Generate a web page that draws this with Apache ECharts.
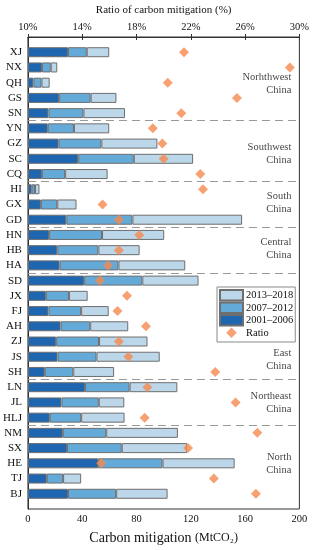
<!DOCTYPE html>
<html><head><meta charset="utf-8">
<script src="https://cdn.jsdelivr.net/npm/echarts@6/dist/echarts.min.js"></script>
<style>html,body{margin:0;padding:0;background:#fff}#c{width:312px;height:550px}</style>
</head><body><div id="c"></div>
<script>
// ---- data ----
const provinces = ['XJ','NX','QH','GS','SN','YN','GZ','SC','CQ','HI','GX','GD','HN','HB','HA','SD','JX','FJ','AH','ZJ','JS','SH','LN','JL','HLJ','NM','SX','HE','TJ','BJ'];
const seg2001_2006 = [29.5,10.3,4.0,23.0,15.1,14.6,22.6,37.0,10.3,2.8,9.5,28.3,15.6,21.6,23.3,41.4,13.2,15.1,24.0,20.8,21.8,12.4,42.1,24.7,16.1,25.7,28.8,51.7,13.9,29.5];
const seg2007_2012 = [13.8,6.5,6.0,23.2,25.8,19.3,31.5,41.0,17.1,2.4,12.1,48.7,39.0,30.3,43.4,42.9,17.0,24.1,21.9,31.6,28.7,21.0,32.8,27.5,23.1,32.0,40.3,47.5,12.0,35.5];
const seg2013_2018 = [16.6,4.8,6.0,19.0,30.6,26.0,41.3,43.7,31.3,3.3,14.2,80.8,45.8,30.4,49.2,41.4,13.8,20.3,28.0,35.7,46.6,30.1,35.2,18.8,32.0,52.8,48.2,53.1,13.3,37.9];
const ratioPct = [21.5,29.3,20.3,25.4,21.3,19.2,19.9,20.0,22.7,22.9,15.5,16.7,18.2,16.7,15.9,15.3,17.3,16.6,18.7,16.7,17.4,23.8,18.8,25.3,18.6,26.9,21.8,15.4,23.7,26.8];
const regionNames = ['Norhthwest\nChina','Southwest\nChina','South\nChina','Central\nChina','East\nChina','Northeast\nChina','North\nChina'];
const regionSizes = [5,4,3,3,7,3,5];
const mitigationTicks = [0,40,80,120,160,200];
const ratioTicks = [10,14,18,22,26,30];

// ---- layout / style ----
const regionLabelShift = [0.05,0.15,-0.1,-0.1,2.2,0,0];
const FONT = 'Liberation Serif';
const FS = 10.5;
const C1 = '#1f66b1', C2 = '#64aad9', C3 = '#bdd7ea', BORDER = '#6e6e6e', ORANGE = '#f5894f';
const RATIO_OFFSET = ratioTicks[0];

const cats = [''].concat(provinces).concat(['']);
const pairs = arr => arr.map((v,i)=>[v, provinces[i]]);

let acc = 0; const boundaries = []; const labelPts = [];
regionSizes.forEach((n,k)=>{
  const start = acc + 1, end = acc + n;
  labelPts.push({value:[mitigationTicks[mitigationTicks.length-1], (start+end)/2 + regionLabelShift[k]], name: regionNames[k]});
  acc += n;
  if (k < regionSizes.length-1) boundaries.push({yAxis: acc + 0.5});
});

const chart = echarts.init(document.getElementById('c'), null, {renderer:'canvas'});
const axisLineStyle = {color:'#333', width:1};
chart.setOption({
  animation:false,
  textStyle:{fontFamily:FONT},
  grid:{left:23, right:12, top:32, bottom:33, containLabel:false, show:true, borderColor:'#333', borderWidth:1, backgroundColor:'transparent'},
  xAxis:[
    {type:'value', min:mitigationTicks[0], max:mitigationTicks[mitigationTicks.length-1], interval:40, position:'bottom',
     axisLine:{show:true, lineStyle:axisLineStyle}, axisTick:{show:true, inside:true, length:3, lineStyle:axisLineStyle},
     axisLabel:{color:'#111', fontFamily:FONT, fontSize:FS, margin:5},
     splitLine:{show:false},
     name:'{a|Carbon mitigation }{b|(MtCO₂)}', nameLocation:'middle', nameGap:22,
     nameTextStyle:{rich:{a:{fontFamily:FONT,fontSize:14,color:'#111'}, b:{fontFamily:FONT,fontSize:12,color:'#111'}}}},
    {type:'value', min:0, max:ratioTicks[ratioTicks.length-1]-RATIO_OFFSET, interval:4, position:'top',
     axisLine:{show:true, lineStyle:axisLineStyle}, axisTick:{show:true, inside:true, length:3, lineStyle:axisLineStyle},
     axisLabel:{color:'#111', fontFamily:FONT, fontSize:FS, margin:4, formatter:v=>(v+RATIO_OFFSET)+'%'},
     splitLine:{show:false},
     name:'Ratio of carbon mitigation (%)', nameLocation:'middle', nameGap:21,
     nameTextStyle:{fontFamily:FONT, fontSize:11, color:'#111'}}
  ],
  yAxis:[
    {type:'category', data:cats, inverse:true, boundaryGap:false,
     axisLine:{show:true, lineStyle:axisLineStyle}, axisTick:{show:false},
     axisLabel:{interval:0, color:'#111', fontFamily:FONT, fontSize:11, margin:6}},
    {type:'value', min:0, max:cats.length-1, inverse:true, position:'right',
     axisLine:{show:false}, axisTick:{show:false}, axisLabel:{show:false}, splitLine:{show:false}}
  ],
  legend:{
    data:[{name:'2013–2018', icon:'rect'},{name:'2007–2012', icon:'rect'},{name:'2001–2006', icon:'rect'},{name:'Ratio', icon:'path://M5,0L10,5L5,10L0,5Z'}],
    orient:'vertical', left:217, top:287, padding:[2,2,3,2], itemGap:0, itemWidth:23, itemHeight:10.5, symbolKeepAspect:true,
    borderColor:'#8a8a8a', borderWidth:1, backgroundColor:'#fff',
    textStyle:{fontFamily:FONT, fontSize:FS, color:'#111', padding:[0,0,0,-2], lineHeight:12.5}
  },
  series:[
    {name:'2001–2006', type:'bar', stack:'t', barWidth:10, data:pairs(seg2001_2006), xAxisIndex:0, yAxisIndex:0,
     itemStyle:{color:C1, borderColor:BORDER, borderWidth:1}},
    {name:'2007–2012', type:'bar', stack:'t', barWidth:10, data:pairs(seg2007_2012), xAxisIndex:0, yAxisIndex:0,
     itemStyle:{color:C2, borderColor:BORDER, borderWidth:1}},
    {name:'2013–2018', type:'bar', stack:'t', barWidth:10, data:pairs(seg2013_2018), xAxisIndex:0, yAxisIndex:0,
     itemStyle:{color:C3, borderColor:BORDER, borderWidth:1}},
    {name:'sep', type:'line', data:[], xAxisIndex:0, yAxisIndex:1, silent:true,
     markLine:{silent:true, symbol:['none','none'], label:{show:false},
       lineStyle:{color:'#999', type:[8,5], width:1.2}, data:boundaries}},
    {name:'regions', type:'scatter', xAxisIndex:0, yAxisIndex:1, symbolSize:0, silent:true, data:labelPts,
     label:{show:true, position:'left', distance:8, formatter:p=>p.name, align:'right',
       fontFamily:FONT, fontSize:FS, lineHeight:13, color:'#111'}},
    {name:'Ratio', type:'scatter', symbol:'diamond', symbolSize:10, xAxisIndex:1, yAxisIndex:0, z:5,
     data:ratioPct.map((v,i)=>[v-RATIO_OFFSET, provinces[i]]),
     itemStyle:{color:ORANGE}}
  ]
});
</script></body></html>
